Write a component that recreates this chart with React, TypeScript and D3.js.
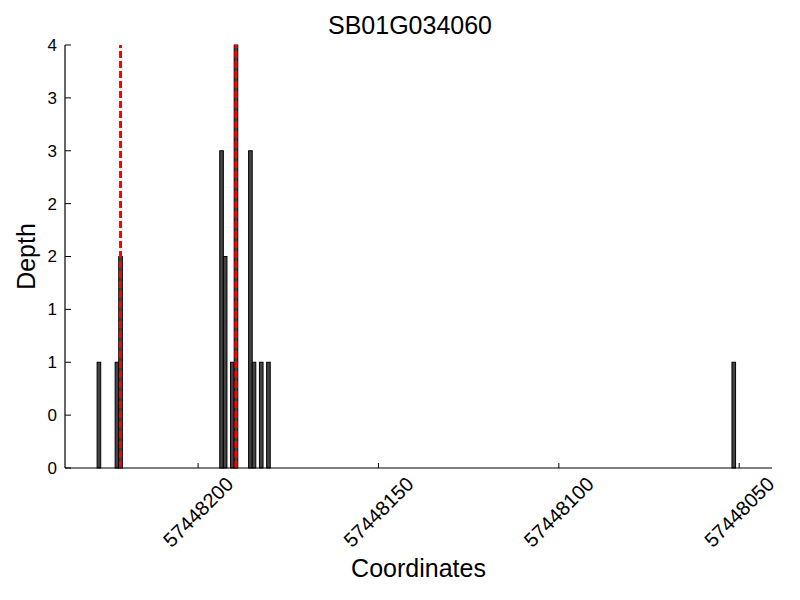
import React, { useEffect, useRef } from 'react';
import * as d3 from 'd3';

// read-depth bars, one base wide each (start coordinate of the base)
const barStarts = [
  57448227, 57448222, 57448221, 57448193, 57448192, 57448190,
  57448189, 57448185, 57448184, 57448182, 57448180, 57448051,
];
const depths = [1, 1, 2, 3, 2, 1, 4, 3, 1, 1, 1, 1];

// red dashed markers
const markerCoords = [57448221.5, 57448189.5];

const xDomain = [57448236.9, 57448040.9];
const xTickValues = [57448200, 57448150, 57448100, 57448050];
const yTickValues = [0, 0.5, 1, 1.5, 2, 2.5, 3, 3.5, 4];
const yTickLabels = ['0', '0', '1', '1', '2', '2', '3', '3', '4'];

const title = 'SB01G034060';
const xLabel = 'Coordinates';
const yLabel = 'Depth';

const FONT = '"Liberation Sans", Arial, Helvetica, sans-serif';

export default function App() {
  const ref = useRef<SVGSVGElement>(null);

  useEffect(() => {
    const svg = d3.select(ref.current);
    svg.selectAll('*').remove();

    const left = 65, right = 772, top = 45, bottom = 468;

    const x = d3.scaleLinear().domain(xDomain).range([left, right]);
    const y = d3.scaleLinear().domain([0, 4]).range([bottom, top]);

    const bars = barStarts.map((p, i) => ({ p, d: depths[i] }));

    svg.append('g')
      .selectAll('rect')
      .data(bars)
      .enter()
      .append('rect')
      .attr('x', d => x(d.p + 1))
      .attr('y', d => y(d.d))
      .attr('width', d => x(d.p) - x(d.p + 1))
      .attr('height', d => y(0) - y(d.d))
      .attr('fill', '#444')
      .attr('stroke', '#000')
      .attr('stroke-width', 1);

    svg.append('g')
      .selectAll('line')
      .data(markerCoords)
      .enter()
      .append('line')
      .attr('x1', d => x(d))
      .attr('x2', d => x(d))
      .attr('y1', y(0))
      .attr('y2', y(4))
      .attr('stroke', '#ff0000')
      .attr('stroke-width', 3)
      .attr('stroke-dasharray', '7,3');

    // axes
    const axisColor = '#000';
    svg.append('line')
      .attr('x1', left).attr('x2', left)
      .attr('y1', top).attr('y2', bottom)
      .attr('stroke', axisColor).attr('stroke-width', 1.2);
    svg.append('line')
      .attr('x1', left).attr('x2', right)
      .attr('y1', bottom).attr('y2', bottom)
      .attr('stroke', axisColor).attr('stroke-width', 1.2);

    // y ticks point inward
    const yt = svg.append('g');
    yTickValues.forEach((v, i) => {
      yt.append('line')
        .attr('x1', left).attr('x2', left + 6)
        .attr('y1', y(v)).attr('y2', y(v))
        .attr('stroke', axisColor);
      yt.append('text')
        .attr('x', left - 8)
        .attr('y', y(v))
        .attr('dy', '0.35em')
        .attr('text-anchor', 'end')
        .style('font-family', FONT)
        .style('font-size', '17px')
        .text(yTickLabels[i]);
    });

    const xt = svg.append('g');
    xTickValues.forEach(v => {
      xt.append('line')
        .attr('x1', x(v)).attr('x2', x(v))
        .attr('y1', bottom).attr('y2', bottom - 5)
        .attr('stroke', axisColor);
      const cy = 512;
      xt.append('text')
        .attr('x', x(v))
        .attr('y', cy)
        .attr('dy', '0.35em')
        .attr('text-anchor', 'middle')
        .attr('transform', `rotate(-45,${x(v)},${cy})`)
        .style('font-family', FONT)
        .style('font-size', '20px')
        .text(d3.format('d')(v));
    });

    svg.append('text')
      .attr('x', 410)
      .attr('y', 34)
      .attr('text-anchor', 'middle')
      .style('font-family', FONT)
      .style('font-size', '25px')
      .text(title);

    svg.append('text')
      .attr('x', (left + right) / 2)
      .attr('y', 577)
      .attr('text-anchor', 'middle')
      .style('font-family', FONT)
      .style('font-size', '25px')
      .text(xLabel);

    svg.append('text')
      .attr('transform', `translate(35,${(top + bottom) / 2}) rotate(-90)`)
      .attr('text-anchor', 'middle')
      .style('font-family', FONT)
      .style('font-size', '25px')
      .text(yLabel);
  }, []);

  return (
    <svg
      ref={ref}
      width={800}
      height={600}
      style={{ position: 'absolute', left: 0, top: 0, background: '#fff' }}
    />
  );
}
